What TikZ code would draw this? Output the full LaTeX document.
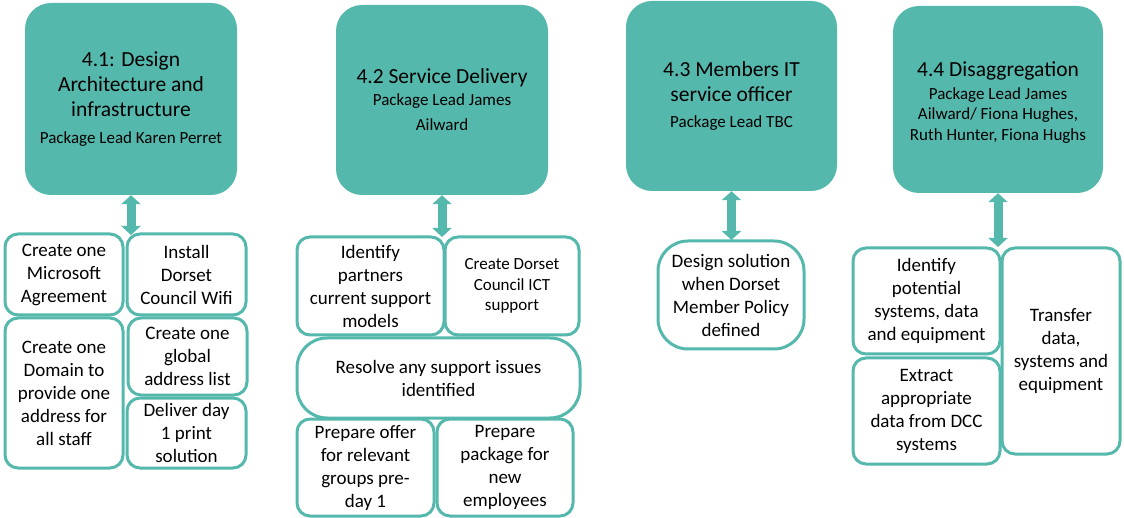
\documentclass[tikz,border=0pt]{standalone}
\usepackage{fontspec}
\setmainfont{Carlito}
\usetikzlibrary{arrows.meta}
\definecolor{teal}{HTML}{55B8AC}
\newcommand{\bigf}{\fontsize{21.5}{25}\selectfont}
\newcommand{\smallf}{\fontsize{17}{21}\selectfont}
\tikzset{
  topbox/.style={fill=teal, draw=none, rounded corners=26pt, text=black, align=center, inner sep=0pt, font=\bigf},
  sbox/.style={draw=teal, line width=3pt, fill=white, rounded corners=13pt, align=center, inner sep=0pt, text=black, font=\fontsize{19}{23}\selectfont},
  rbox/.style={sbox, rounded corners=30pt},
  arr/.style={draw=teal, line width=9pt, {Triangle[width=19pt,length=9pt]}-{Triangle[width=19pt,length=9pt]}}
}
\begin{document}
\begin{tikzpicture}[x=1pt,y=-1pt]
\useasboundingbox (0,0) rectangle (1124,518);
% top boxes
\node[topbox, minimum width=212pt, minimum height=192pt] (t1) at (131,99)
  {4.1: Design\\Architecture and\\infrastructure\\[2pt]{\smallf Package Lead Karen Perret}};
\node[topbox, minimum width=212pt, minimum height=190pt] (t2) at (442,100)
  {4.2 Service Delivery\\[-3pt]{\smallf Package Lead James}\\{\smallf Ailward}};
\node[topbox, minimum width=211pt, minimum height=190pt] (t3) at (731.5,96)
  {4.3 Members IT\\service officer\\[1pt]{\smallf Package Lead TBC}};
\node[topbox, minimum width=210pt, minimum height=187pt] (t4) at (998,99.5) {};
\node[align=center, inner sep=0pt, font=\bigf] (t4text) at (998,102.5)
  {4.4 Disaggregation\\[-2pt]{\smallf Package Lead James}\\[-5pt]{\smallf Ailward/ Fiona Hughes,}\\[-4pt]{\smallf Ruth Hunter, Fiona Hughs}};
% column 1
\node[sbox, minimum width=118pt, minimum height=81pt] (b11) at (64,274.5) {Create one\\Microsoft\\Agreement};
\node[sbox, minimum width=119pt, minimum height=81pt] (b12) at (186.5,274.5) {Install\\Dorset\\Council Wifi};
\node[sbox, minimum width=118pt, minimum height=150pt] (b13) at (64,393) {Create one\\Domain to\\provide one\\address for\\all staff};
\node[sbox, minimum width=119pt, minimum height=77pt] (b14) at (187.5,356.5) {Create one\\global\\address list};
\node[sbox, minimum width=119pt, minimum height=70pt] (b15) at (186.5,433) {Deliver day\\1 print\\solution};
% column 2
\node[sbox, minimum width=147pt, minimum height=98pt] (b21) at (370.5,286) {Identify\\partners\\current support\\models};
\node[sbox, minimum width=134pt, minimum height=98pt, font=\fontsize{17}{20.5}\selectfont] (b22) at (512,286) {Create Dorset\\Council ICT\\support};
\node[rbox, minimum width=283pt, minimum height=80pt] (b23) at (438.5,378) {Resolve any support issues\\identified};
\node[sbox, minimum width=137pt, minimum height=97pt] (b24) at (365.5,467.5) {Prepare offer\\for relevant\\groups pre-\\day 1};
\node[sbox, minimum width=136pt, minimum height=97pt] (b25) at (505,467.5) {Prepare\\package for\\new\\employees};
% column 3
\node[rbox, minimum width=146pt, minimum height=108pt] (b31) at (731,295) {Design solution\\when Dorset\\Member Policy\\defined};
% column 4
\node[sbox, minimum width=147pt, minimum height=106pt] (b41) at (926.5,301) {Identify\\potential\\systems, data\\and equipment};
\node[sbox, minimum width=147pt, minimum height=106pt] (b42) at (926.5,411) {Extract\\appropriate\\data from DCC\\systems};
\node[sbox, minimum width=118pt, minimum height=206pt] (b43) at (1061,351) {Transfer\\data,\\systems and\\equipment};
% arrows
\coordinate (a1) at (131,235);
\coordinate (a2) at (442,237);
\coordinate (a3) at (731.5,240);
\coordinate (a4) at (998,247);
\draw[arr] (t1.south) -- (a1);
\draw[arr] (t2.south) -- (a2);
\draw[arr] (t3.south) -- (a3);
\draw[arr] (t4.south) -- (a4);
\end{tikzpicture}
\end{document}
